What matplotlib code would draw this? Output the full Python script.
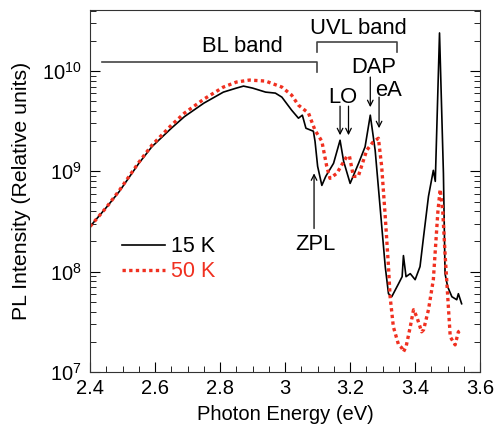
import numpy as np
import matplotlib
matplotlib.use('Agg')
import matplotlib.pyplot as plt
from matplotlib.ticker import MultipleLocator, LogLocator

plt.rcParams['font.family'] = ['Liberation Sans', 'DejaVu Sans']
plt.rcParams['mathtext.fontset'] = 'custom'
plt.rcParams['mathtext.rm'] = 'Liberation Sans'
plt.rcParams['mathtext.it'] = 'Liberation Sans'

# 15 K spectrum (photon energy in eV, log10 of PL intensity)
e_15k = [2.40, 2.45, 2.49, 2.55, 2.59, 2.65, 2.69, 2.75, 2.81, 2.85, 2.872, 2.90,
         2.94, 2.97, 2.99, 3.02, 3.041, 3.053, 3.064, 3.087, 3.092, 3.10, 3.113, 3.125,
         3.149, 3.169, 3.18, 3.20, 3.226, 3.246, 3.262, 3.277, 3.292, 3.308, 3.318,
         3.328, 3.349, 3.36, 3.364, 3.372, 3.385, 3.40, 3.415, 3.426, 3.441, 3.456,
         3.462, 3.475, 3.487, 3.492, 3.50, 3.513, 3.528, 3.533, 3.543]
log_15k = [8.45, 8.64, 8.80, 9.08, 9.245, 9.43, 9.545, 9.68, 9.79, 9.83, 9.85, 9.83,
           9.79, 9.78, 9.74, 9.61, 9.53, 9.56, 9.43, 9.40, 9.30, 9.05, 8.86, 8.95,
           9.08, 9.31, 9.10, 8.88, 9.08, 9.245, 9.56, 9.21, 8.65, 8.05, 7.78,
           7.75, 7.88, 7.95, 8.16, 7.95, 7.98, 7.92, 8.05, 8.35, 8.75, 9.01,
           8.90, 10.38, 8.98, 7.98, 7.85, 7.75, 7.72, 7.78, 7.68]

# 50 K spectrum
e_50k = [2.40, 2.45, 2.49, 2.55, 2.59, 2.65, 2.69, 2.75, 2.81, 2.85, 2.89, 2.94,
         2.99, 3.02, 3.041, 3.072, 3.092, 3.113, 3.128, 3.138, 3.159, 3.19, 3.198,
         3.21, 3.225, 3.251, 3.27, 3.287, 3.297, 3.308, 3.318, 3.323, 3.333, 3.349,
         3.359, 3.364, 3.372, 3.385, 3.395, 3.405, 3.42, 3.426, 3.441, 3.456, 3.47,
         3.477, 3.485, 3.492, 3.508, 3.523, 3.533, 3.543]
log_50k = [8.45, 8.64, 8.81, 9.09, 9.26, 9.46, 9.58, 9.72, 9.84, 9.89, 9.91, 9.90,
           9.84, 9.76, 9.66, 9.58, 9.41, 9.30, 9.05, 8.93, 8.98, 9.15, 9.15,
           8.95, 8.95, 9.21, 9.29, 9.33, 9.05, 8.55, 8.05, 7.75, 7.45, 7.27,
           7.24, 7.20, 7.25, 7.45, 7.62, 7.55, 7.40, 7.42, 7.62, 7.92, 8.60,
           8.82, 8.60, 8.18, 7.35, 7.27, 7.40, 7.42]

fig = plt.figure(figsize=(4.95, 4.29), dpi=100)
ax = fig.add_axes([0.182, 0.133, 0.788, 0.844])

ax.plot(e_15k, np.power(10.0, log_15k), color='black', lw=1.2, label='15 K')
ax.plot(e_50k, np.power(10.0, log_50k), color='#f03020', lw=2.4,
        linestyle=(0, (1, 1)), label='50 K')

ax.set_yscale('log')
ax.set_xlim(2.4, 3.6)
ax.set_ylim(1e7, 10 ** 10.61)
ax.xaxis.set_major_locator(MultipleLocator(0.2))
ax.xaxis.set_minor_locator(MultipleLocator(0.05))
ax.yaxis.set_major_locator(LogLocator(base=10))
ax.yaxis.set_minor_locator(LogLocator(base=10, subs=np.arange(2, 10)))
ax.xaxis.set_major_formatter(plt.FuncFormatter(lambda v, p: '%g' % v))
ax.tick_params(which='both', direction='in', top=False, right=True, labelsize=14.5)
ax.tick_params(which='major', length=7)
ax.tick_params(which='minor', length=4)
ax.tick_params(axis='x', pad=5)
ax.tick_params(axis='y', pad=6)
for s in ax.spines.values():
    s.set_color('#333333')

ax.set_xlabel('Photon Energy (eV)', fontsize=14.5, labelpad=5)
ax.set_ylabel('PL Intensity (Relative units)', fontsize=15.3, labelpad=8)

leg = ax.legend(loc='upper left', bbox_to_anchor=(0.055, 0.405), frameon=False,
                fontsize=15.5, handlelength=2.0, handletextpad=0.25,
                labelspacing=0.2, borderpad=0)
leg.get_texts()[1].set_color('#f03020')

# band brackets
gray = '#444444'
ax.plot([2.436, 3.097, 3.097], [10 ** 10.09, 10 ** 10.09, 10 ** 9.99], color=gray, lw=1.2)
ax.plot([3.097, 3.097, 3.344, 3.344], [10 ** 10.19, 10 ** 10.29, 10 ** 10.29, 10 ** 10.19],
        color=gray, lw=1.2)
ax.text(2.867, 10 ** 10.24, 'BL band', fontsize=15.8, ha='center', va='center')
ax.text(3.226, 10 ** 10.42, 'UVL band', fontsize=15.8, ha='center', va='center')

# peak labels with arrows
arr = dict(arrowstyle='->', color='black', lw=0.9, shrinkA=0, shrinkB=0)
ax.text(3.179, 10 ** 9.74, 'LO', fontsize=15.8, ha='center', va='center')
ax.annotate('', xy=(3.169, 10 ** 9.36), xytext=(3.169, 10 ** 9.65), arrowprops=arr)
ax.annotate('', xy=(3.195, 10 ** 9.36), xytext=(3.195, 10 ** 9.65), arrowprops=arr)
ax.text(3.272, 10 ** 10.04, 'DAP', fontsize=15.8, ha='center', va='center')
ax.annotate('', xy=(3.262, 10 ** 9.64), xytext=(3.262, 10 ** 9.94), arrowprops=arr)
ax.text(3.318, 10 ** 9.81, 'eA', fontsize=15.8, ha='center', va='center')
ax.annotate('', xy=(3.289, 10 ** 9.43), xytext=(3.289, 10 ** 9.74), arrowprops=arr)
ax.text(3.092, 10 ** 8.27, 'ZPL', fontsize=15.8, ha='center', va='center')
ax.annotate('', xy=(3.089, 10 ** 8.98), xytext=(3.089, 10 ** 8.43), arrowprops=arr)

fig.savefig('out.png', dpi=100)
